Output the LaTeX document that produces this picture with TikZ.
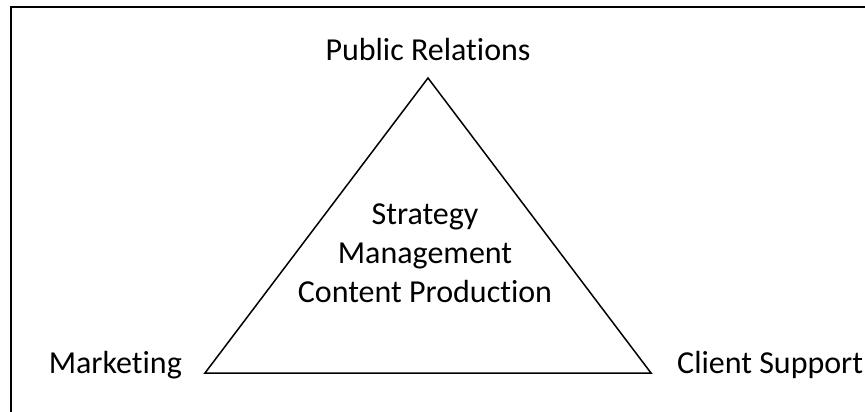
\documentclass[tikz,border=0pt]{standalone}
\usepackage{fontspec}
\setmainfont{Carlito}[Ligatures={NoCommon}]
\usepackage{tikz}
\usetikzlibrary{positioning}

\begin{document}
\begin{tikzpicture}[
    x=1pt, y=-1pt,
    every node/.style={
        font=\fontsize{32}{39}\selectfont, inner sep=0pt, align=center
    },
    frame/.style={draw, line width=2pt},
    side/.style={draw, line width=1.5pt, line join=miter},
]
\useasboundingbox (0,0) rectangle (865,412);
\clip (0,0) rectangle (865,412);

% Outer frame, runs off the page to the right and below
\draw[frame] (10.5,7.5) rectangle (880,430);

% Triangle corners
\coordinate (apex) at (428,78);
\coordinate (left) at (205,373);
\coordinate (right) at (651,373);
\draw[side] (left) -- (apex) -- (right) -- cycle;

% Corner labels
\node[anchor=base] (pr) at ([yshift=18pt]apex) {Public Relations};
\node[anchor=base east] (mkt) at ([xshift=-23pt]left) {Marketing};
\node[anchor=base west] (cs) at ([xshift=26pt]right) {Client Support};

% Centre text (base sits on the last line)
\node[anchor=base] (mid) at (425,302) {Strategy\\Management\\Content Production};
\end{tikzpicture}
\end{document}
